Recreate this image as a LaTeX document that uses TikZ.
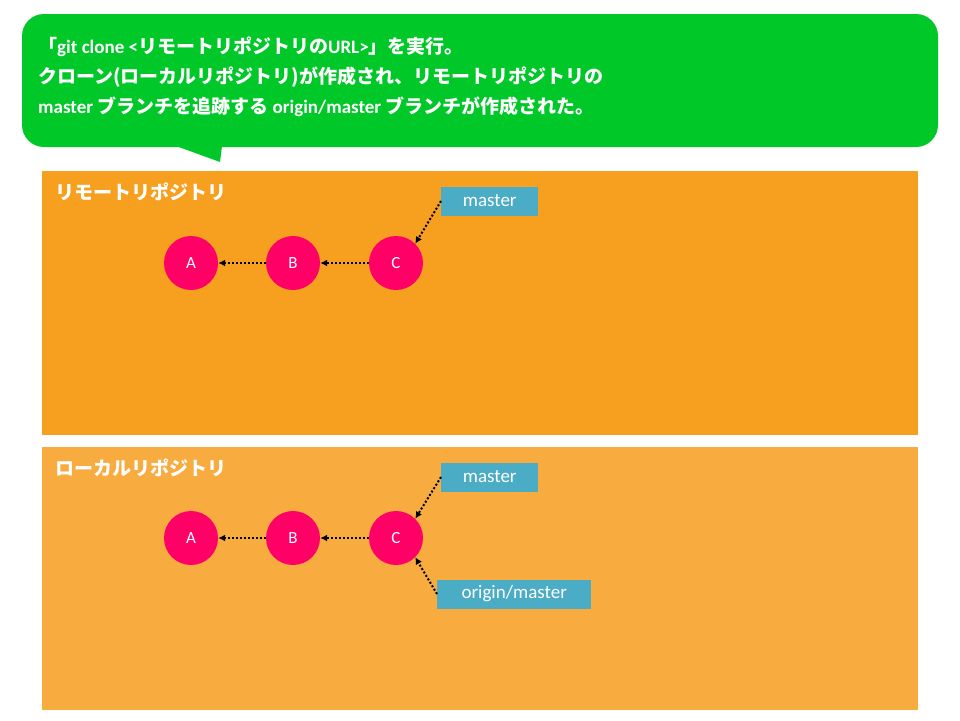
\documentclass[tikz,border=0pt]{standalone}
\usepackage{fontspec}
\setmainfont{Carlito}
\newfontfamily\jp{Noto Sans CJK JP}
\usetikzlibrary{arrows.meta}
\definecolor{gr}{RGB}{0,200,40}
\definecolor{or1}{RGB}{247,160,32}
\definecolor{or2}{RGB}{248,172,64}
\definecolor{cm}{RGB}{255,0,102}
\definecolor{lb}{RGB}{75,172,198}
\begin{document}
\begin{tikzpicture}[x=1pt,y=-1pt,
  commit/.style={circle,fill=cm,minimum size=54pt,inner sep=0pt,text=white,font=\fontsize{17}{17}\selectfont},
  ref/.style={fill=lb,text=white,font=\fontsize{19}{19}\selectfont,minimum height=29pt,inner sep=0pt,anchor=west},
  con/.style={dotted,line width=2pt,-{Latex[length=7pt,width=7pt]}},
  ttl/.style={text=white,anchor=west,font=\jp\bfseries\fontsize{19}{19}\selectfont}]
\useasboundingbox (0,0) rectangle (960,720);
\fill[gr,rounded corners=22pt] (22,14) rectangle (938,147);
\fill[gr] (176,146) -- (222,146) -- (220,162) -- cycle;
\node[anchor=north west,text=white,align=left,inner sep=0pt,font=\bfseries\fontsize{19}{30}\selectfont] (callout) at (38,37)
 {{\jp 「}git clone <{\jp リモートリポジトリの}URL>{\jp 」を実行。}\\
  {\jp クローン(ローカルリポジトリ)が作成され、リモートリポジトリの}\\
  master {\jp ブランチを追跡する} origin/master {\jp ブランチが作成された。}};
\fill[or1] (42,171) rectangle (918,435);
\fill[or2] (42,447) rectangle (918,710);
\node[ttl] (t1) at (52,192) {リモートリポジトリ};
\node[ttl] (t2) at (52,468) {ローカルリポジトリ};
\node[commit] (a1) at (191,263) {A};
\node[commit] (b1) at (293,263) {B};
\node[commit] (c1) at (396,263) {C};
\node[commit] (a2) at (191,538) {A};
\node[commit] (b2) at (293,538) {B};
\node[commit] (c2) at (396,538) {C};
\node[ref,minimum width=97pt] (m1) at (441,201) {master};
\node[ref,minimum width=97pt] (m2) at (441,477) {master};
\node[ref,minimum width=154pt] (o2) at (437,594) {origin/master};
\draw[con] (b1) -- (a1); \draw[con] (c1) -- (b1);
\draw[con] (b2) -- (a2); \draw[con] (c2) -- (b2);
\draw[con] (m1.west) -- (c1.north east);
\draw[con] (m2.west) -- (c2.north east);
\draw[con] (o2.west) -- (c2.south east);
\end{tikzpicture}
\end{document}
